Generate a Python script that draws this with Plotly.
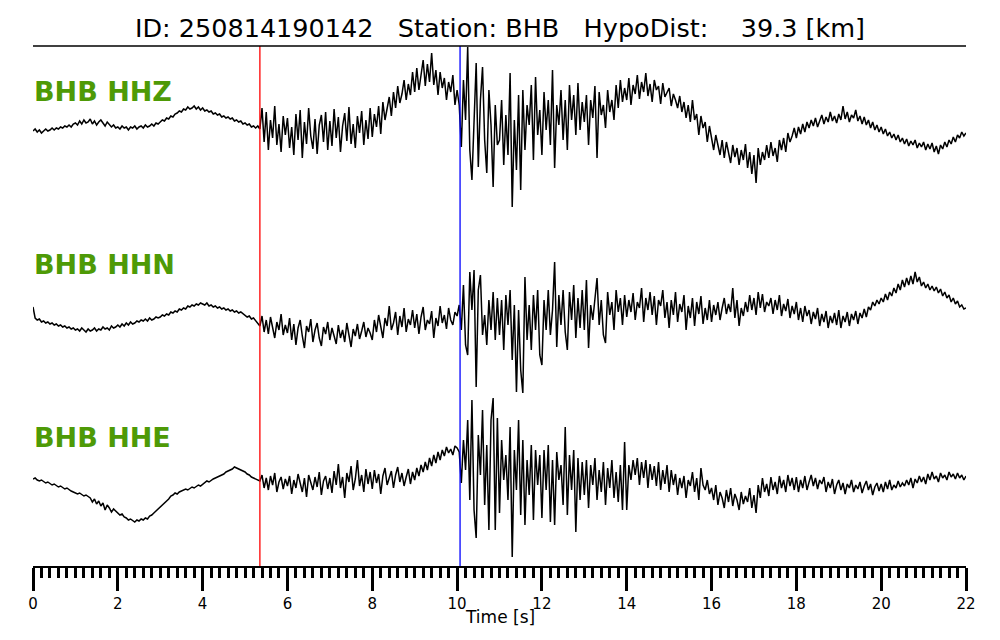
import plotly.graph_objects as go

# ---------------- data ----------------
sample_dt = 0.05          # s between samples
p_pick = 5.35             # s, red marker
s_pick = 10.07            # s, blue marker
channels = ["BHB HHZ", "BHB HHN", "BHB HHE"]
title_text = "ID: 250814190142   Station: BHB   HypoDist:    39.3 [km]"
tick_vals = [0, 2, 4, 6, 8, 10, 12, 14, 16, 18, 20, 22]

hhz = [
    -1, 1, -2, 0, -3, -1, 1, -1, 0, 2, 0, 2, 1, 3, 2, 4, 3, 5, 3, 6,
    7, 5, 9, 6, 10, 7, 8, 11, 6, 9, 5, 8, 10, 7, 4, 8, 6, 3, 5, 2,
    3, 1, 4, 2, 3, 0, 3, 2, 4, 1, 3, 4, 2, 5, 3, 4, 6, 4, 7, 6,
    8, 10, 9, 12, 11, 14, 13, 16, 17, 19, 18, 21, 20, 23, 21, 22, 24, 21, 23, 20,
    22, 19, 20, 18, 19, 16, 17, 15, 16, 13, 14, 12, 13, 11, 12, 9, 10, 8, 9, 6,
    7, 5, 6, 3, 4, 2, 4, 1, 22, -12, 18, -20, 10, -8, 24, -15, 6, -22, 14, -5,
    12, -18, 3, -25, 16, -10, 20, -28, 8, -14, 22, -6, -19, 11, -24, 5, 15, -12, 18, -20,
    9, -16, 21, -8, 13, -22, 4, 17, -11, 23, -14, 6, -18, 14, -3, 19, -15, 10, -9, 22,
    -7, 16, 3, 24, -4, 28, 10, 20, 33, 14, 38, 22, 44, 27, 36, 50, 30, 46, 35, 58,
    38, 62, 40, 55, 70, 44, 66, 48, 77, 45, 60, 35, 58, 42, 52, 30, 48, 38, 55, 25,
    40, 25, -17, 50, 10, 83, -20, -50, 20, 67, -37, 30, 63, -10, -43, 40, 5, -57, 25, -15,
    -10, 30, -35, 15, -25, 57, -77, 10, -40, 35, -60, 40, -20, 25, 5, 45, -30, 53, -5, 20,
    -25, 38, 0, 30, -15, 60, -38, 25, 5, 40, -10, 30, -20, 45, 10, 35, -5, 47, 0, 28,
    8, 35, -15, 30, 12, 44, -28, 38, 15, 25, 2, 40, 18, 30, 10, 45, 22, 50, 28, 42,
    30, 52, 25, 45, 36, 55, 31, 48, 38, 57, 34, 46, 28, 50, 40, 44, 26, 47, 33, 38,
    42, 24, 36, 30, 22, 34, 18, 28, 12, 25, 8, 30, 10, 16, -5, 14, 2, 8, -12, 4,
    -8, -20, -5, -15, -25, -10, -28, -12, -22, -33, -15, -27, -18, -35, -20, -30, -14, -38, -22, -44,
    -25, -53, -18, -35, -22, -30, -15, -28, -12, -26, -18, -32, -10, -20, -8, -22, -3, -12, -6, 2,
    -8, 3, -4, 6, -2, 8, 2, 10, 4, 12, 3, 9, 15, 6, 13, 8, 18, 9, 14, 7,
    16, 10, 24, 11, 18, 8, 15, 12, 20, 9, 14, 6, 13, 5, 10, 2, 8, 0, 5, -2,
    3, -4, 1, -6, -2, -8, -4, -10, -5, -12, -8, -14, -9, -16, -11, -15, -10, -18, -13, -17,
    -12, -20, -14, -19, -13, -22, -16, -24, -15, -19, -12, -17, -10, -14, -7, -12, -5, -8, -2, -6,
    -3,
]

hhn = [
    13, 2, 0, 1, -2, -1, -3, -2, -4, -3, -5, -4, -6, -5, -7, -6, -8, -7, -9, -8,
    -10, -9, -11, -8, -10, -12, -9, -11, -10, -8, -11, -9, -10, -7, -9, -8, -10, -6, -8, -7,
    -5, -7, -4, -6, -3, -5, -2, -4, -3, -1, -2, 0, -1, 1, -1, 2, 0, 1, 3, 2,
    3, 5, 4, 6, 5, 8, 7, 9, 8, 11, 10, 12, 11, 14, 13, 15, 14, 16, 15, 17,
    16, 15, 17, 14, 15, 13, 14, 12, 13, 11, 12, 10, 11, 9, 10, 8, 9, 7, 8, 6,
    5, 3, 4, 1, 2, -1, -3, -6, 4, -12, 0, -14, 3, -9, -18, -2, -10, 6, -15, -5,
    -13, 2, -20, -4, -25, -8, 0, -16, -28, -6, -12, 1, -22, -10, -3, -18, -26, -7, -14, -2,
    -20, -8, -15, -24, -5, -18, -10, -22, -3, -14, -27, -9, -16, -4, -19, -11, -2, -17, -8, -13,
    -20, 0, -12, 5, -8, -18, 2, -6, 14, -10, -3, 8, -15, 4, -7, 12, -12, 1, -5, 10,
    -8, 6, -14, 3, 13, -10, 0, -4, 9, -18, 2, -6, 14, -3, 5, -9, 12, 0, -5, 8,
    4, 15, -10, 35, -25, -35, 48, 10, 50, -67, 30, 45, -15, 5, -25, 20, -10, 28, -20, 22,
    -15, 20, -30, 25, -5, 30, -40, 15, -72, 10, -50, -73, 43, -20, 15, -30, 25, -10, 30, -35,
    -45, 20, -10, 30, -15, 10, 58, -27, 25, -5, 30, -12, -30, 28, 0, 35, -18, 22, -8, 30,
    -10, 40, -28, 15, 0, 25, 42, -5, 20, -15, -23, 28, 5, 18, -10, 30, 8, 22, -5, 25,
    3, 20, 8, 27, 0, 18, 12, 32, -2, 22, 10, 28, 5, 24, -5, 20, 14, 30, 2, 18,
    -8, 20, 5, 28, -2, 16, 8, 25, -10, 14, 2, 22, -6, 18, 6, 24, -4, 12, 0, 20,
    -2, 15, 5, 18, 0, 12, 22, 6, 16, 8, 32, 2, 20, -6, 12, 4, 18, 8, 25, 10,
    22, 5, 28, 12, 26, 8, 18, 14, 22, 6, 20, 10, 25, 4, 16, 9, 21, 2, 14, 6,
    18, 0, 12, -2, 14, 4, 10, -4, 8, 1, 12, -6, 6, -2, 9, -8, 4, -3, 7, -5,
    10, -8, 4, -2, 8, -6, 6, 0, 9, -4, 7, 2, 11, 3, 13, 10, 18, 14, 20, 16,
    22, 18, 26, 20, 28, 24, 32, 27, 36, 30, 40, 33, 42, 35, 44, 36, 48, 38, 43, 34,
    38, 32, 36, 30, 34, 29, 33, 27, 31, 24, 28, 22, 25, 18, 22, 16, 19, 13, 15, 11,
    12,
]

hhe = [
    1, 2, 0, -1, 0, -2, -3, -2, -4, -5, -4, -6, -7, -6, -8, -9, -8, -10, -11, -12,
    -13, -14, -13, -15, -16, -15, -17, -18, -22, -19, -24, -21, -26, -23, -30, -25, -28, -32, -29, -31,
    -33, -35, -34, -37, -38, -40, -39, -41, -42, -40, -41, -39, -40, -38, -39, -36, -35, -33, -31, -30,
    -28, -26, -24, -21, -19, -16, -15, -13, -14, -12, -11, -10, -9, -10, -8, -7, -8, -6, -5, -6,
    -4, -3, -1, -2, 0, 1, 2, 3, 4, 5, 6, 8, 9, 10, 11, 13, 12, 11, 10, 9,
    8, 6, 5, 3, 2, 1, 0, -1, 5, -8, 2, -10, 4, -5, 7, -12, -2, 3, -9, 1,
    -6, 4, -14, 0, -8, 6, -3, -12, 2, -17, 5, -4, -10, 3, -7, 8, -15, -1, 4, -9,
    2, -13, 9, -5, 16, -8, 3, -18, 7, -2, 14, -10, 1, 20, -6, 5, -12, 11, -4, 8,
    -9, 10, -3, 6, -14, 4, 12, -5, 2, 9, -8, 5, 13, -2, 7, -6, 3, 11, -4, 8,
    0, 12, 4, 15, 8, 18, 10, 22, 14, 25, 17, 28, 20, 30, 24, 33, 27, 31, 25, 34,
    32, 28, -3, 40, 10, 60, -20, 80, -30, -58, 45, 5, 70, -25, 35, -50, 60, 82, -50, 62,
    -33, 40, 0, 25, -20, 53, -77, 30, -10, 60, -35, 40, -45, 20, -15, 35, -40, 30, -5, 25,
    -38, 30, -10, 35, -42, 20, -45, 28, 0, 15, -25, 53, -35, 25, -10, 30, -52, 22, -20, 18,
    -15, 20, -28, 15, -5, 22, -20, 10, -12, 18, -25, 12, -8, 20, -18, 8, -22, 15, -30, 38,
    -30, 15, 0, 20, 5, 22, -5, 18, 2, 20, -8, 16, 0, 14, -6, 18, -10, 10, -4, 15,
    -12, 10, -5, 6, -15, 2, -8, 4, -18, 0, -6, 8, -12, 2, -20, 12, -5, -10, 0, -14,
    -8, -20, -5, -25, -12, -18, -28, -10, -22, -8, -26, -14, -20, -30, -12, -24, -16, -22, -8, -28,
    -15, -33, -5, -18, 2, -12, -4, -16, 3, -10, -2, -14, 4, -8, 0, -12, 5, -6, 2, -10,
    3, -12, 0, -8, 4, -10, -2, 5, -6, 2, -9, 0, -4, 3, -12, -2, -8, 1, -14, -5,
    0, -10, -3, -14, -4, -8, 0, -12, -5, -9, -2, -13, -6, -1, -10, -4, -15, -7, -3, -11,
    -4, -12, -2, -9, 0, -10, -5, -8, -1, -7, -3, -6, 0, -5, 2, -8, 1, -3, 4, -2,
    3, -4, 6, 0, 8, 1, 4, -2, 7, 2, 5, 0, 8, 3, 6, 1, 7, 2, 5, 0,
    4,
]

series = [hhz, hhn, hhe]

# ---------------- layout constants ----------------
PAGE_OFFSET = 8                        # default body margin of the html page
W, H = 1000 - PAGE_OFFSET, 640 - 2 * PAGE_OFFSET
PLOT_TOP, PLOT_BOTTOM = 46, 566        # page pixel rows of plot area
PLOT_LEFT, PLOT_RIGHT = 33, 966        # page pixel columns of plot area
baselines = [130, 320, 480]            # page pixel row of each trace's zero line
label_rows = [91, 264, 437]            # page pixel row of each channel label centre
label_green = "#4e9a06"
font_family = "DejaVu Sans"

fig = go.Figure()
for vals, base in zip(series, baselines):
    t = [i * sample_dt for i in range(len(vals))]
    fig.add_trace(go.Scatter(
        x=t, y=[v - base for v in vals], mode="lines",
        line=dict(color="black", width=1.5), hoverinfo="skip",
    ))

for name, row in zip(channels, label_rows):
    fig.add_annotation(
        x=0, xref="x", y=-row, yref="y", text=f"<b>{name}</b>",
        showarrow=False, xanchor="left", yanchor="middle", xshift=-1,
        font=dict(family=font_family, size=27, color=label_green),
    )

# pick markers
fig.add_shape(type="line", xref="x", yref="paper", x0=p_pick, x1=p_pick,
              y0=0, y1=1, line=dict(color="red", width=1.3), layer="above")
fig.add_shape(type="line", xref="x", yref="paper", x0=s_pick, x1=s_pick,
              y0=0, y1=1, line=dict(color="blue", width=1.3), layer="above")
# top rule under the title
fig.add_shape(type="line", xref="x", yref="paper", x0=0, x1=22,
              y0=1, y1=1, line=dict(color="black", width=1.6), layer="above")

fig.add_annotation(
    x=0.5, xref="paper", y=(PLOT_BOTTOM - 617) / (PLOT_BOTTOM - PLOT_TOP), yref="paper",
    text="Time [s]", showarrow=False, xanchor="center", yanchor="middle",
    font=dict(family=font_family, size=17, color="black"),
)

fig.update_layout(
    width=W, height=H,
    margin=dict(l=PLOT_LEFT - PAGE_OFFSET, r=W - (PLOT_RIGHT - PAGE_OFFSET),
                t=PLOT_TOP - PAGE_OFFSET, b=H - (PLOT_BOTTOM - PAGE_OFFSET), pad=0),
    paper_bgcolor="white", plot_bgcolor="white", showlegend=False,
    title=dict(
        text=title_text.replace(" ", "\u00a0"),
        x=(500 - PAGE_OFFSET) / W, xref="container", xanchor="center",
        y=1 - (28 - PAGE_OFFSET) / H, yref="container", yanchor="middle",
        font=dict(family=font_family, size=25.5, color="black"),
    ),
    xaxis=dict(
        range=[0, 22], showgrid=False, zeroline=False,
        showline=True, linecolor="black", linewidth=1.5,
        ticks="outside", ticklen=23, tickwidth=2.6, tickcolor="black",
        tickmode="array", tickvals=tick_vals, ticktext=[str(v) for v in tick_vals],
        tickfont=dict(family=font_family, size=15, color="black"),
        minor=dict(dtick=0.2, tick0=0, ticks="outside", ticklen=10,
                   tickwidth=2.6, tickcolor="black", showgrid=False),
    ),
    yaxis=dict(range=[-PLOT_BOTTOM, -PLOT_TOP], visible=False, fixedrange=True),
)

fig.write_html("out.html")
